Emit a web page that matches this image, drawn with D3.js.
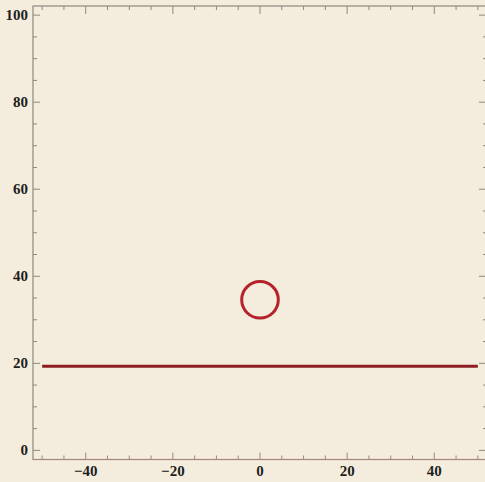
<!DOCTYPE html>
<html>
<head>
<meta charset="utf-8">
<script src="https://cdn.jsdelivr.net/npm/d3@7"></script>
<style>
  body { margin: 0; background: #f4eddd; }
  svg { display: block; }
</style>
</head>
<body>
<svg id="chart" width="485" height="482"></svg>
<script>
"use strict"

// plot ranges
const xDomain = [-52.1, 52.1]
const yDomain = [-2.1, 102.1]

// major tick values
const xMajor = [-40, -20, 0, 20, 40]
const yMajor = [0, 20, 40, 60, 80, 100]

// the horizontal segment
const lineX = [-50, 50]
const lineY = [19.3, 19.3]

// the circle
const circleCenter = [0, 34.6]
const circleRadius = 4.2

const svg = d3.select("#chart")
const W = 485, H = 482
const mLeft = 33, mRight = 487, mTop = 6, mBottom = 459.5

svg.append("rect").attr("width", W).attr("height", H).attr("fill", "#f4eddd")

const x = d3.scaleLinear().domain(xDomain).range([mLeft, mRight])
const y = d3.scaleLinear().domain(yDomain).range([mBottom, mTop])

const frameCol = "#8c8880"
const bottomCol = "#a88484"

// minor ticks every 5
const xMinor = d3.range(-50, 51, 5).filter(v => xMajor.indexOf(v) < 0)
const yMinor = d3.range(0, 101, 5).filter(v => yMajor.indexOf(v) < 0)

const g = svg.append("g")

// ticks on all four sides
const tickG = g.append("g").attr("stroke", frameCol).attr("stroke-width", 1)
xMajor.forEach(v => {
  tickG.append("line").attr("x1", x(v)).attr("x2", x(v)).attr("y1", mBottom).attr("y2", mBottom - 7).attr("stroke", bottomCol)
  tickG.append("line").attr("x1", x(v)).attr("x2", x(v)).attr("y1", mTop).attr("y2", mTop + 8)
})
xMinor.forEach(v => {
  tickG.append("line").attr("x1", x(v)).attr("x2", x(v)).attr("y1", mBottom).attr("y2", mBottom - 4).attr("stroke", bottomCol)
  tickG.append("line").attr("x1", x(v)).attr("x2", x(v)).attr("y1", mTop).attr("y2", mTop + 4)
})
yMajor.forEach(v => {
  tickG.append("line").attr("x1", mLeft).attr("x2", mLeft + 7).attr("y1", y(v)).attr("y2", y(v))
  tickG.append("line").attr("x1", mRight).attr("x2", mRight - 8).attr("y1", y(v)).attr("y2", y(v))
})
yMinor.forEach(v => {
  tickG.append("line").attr("x1", mLeft).attr("x2", mLeft + 4).attr("y1", y(v)).attr("y2", y(v))
  tickG.append("line").attr("x1", mRight).attr("x2", mRight - 4).attr("y1", y(v)).attr("y2", y(v))
})

// frame
g.append("rect")
  .attr("x", mLeft).attr("y", mTop)
  .attr("width", mRight - mLeft).attr("height", mBottom - mTop)
  .attr("fill", "none").attr("stroke", frameCol).attr("stroke-width", 1.2)
g.append("line")
  .attr("x1", mLeft).attr("x2", mRight).attr("y1", mBottom).attr("y2", mBottom)
  .attr("stroke", bottomCol).attr("stroke-width", 1.2)

// tick labels
const fmt = v => v < 0 ? "\u2212" + Math.abs(v) : String(v)
g.append("g").selectAll("text").data(xMajor).join("text")
  .attr("x", d => x(d)).attr("y", mBottom + 16)
  .attr("text-anchor", "middle")
  .attr("font-family", "'Liberation Serif', 'DejaVu Serif', serif")
  .attr("font-size", 15).attr("font-weight", "bold").attr("fill", "#1e1e1e")
  .text(fmt)
g.append("g").selectAll("text").data(yMajor).join("text")
  .attr("x", mLeft - 5).attr("y", d => y(d) + 5)
  .attr("text-anchor", "end")
  .attr("font-family", "'Liberation Serif', 'DejaVu Serif', serif")
  .attr("font-size", 15).attr("font-weight", "bold").attr("fill", "#1e1e1e")
  .text(fmt)

// segment
g.append("path")
  .datum(d3.zip(lineX, lineY))
  .attr("d", d3.line().x(d => x(d[0])).y(d => y(d[1])))
  .attr("stroke", "#8e1d22").attr("stroke-width", 3).attr("fill", "none")

// circle
g.append("ellipse")
  .attr("cx", x(circleCenter[0])).attr("cy", y(circleCenter[1]))
  .attr("rx", x(circleRadius) - x(0)).attr("ry", y(0) - y(circleRadius))
  .attr("stroke", "#b4232b").attr("stroke-width", 3).attr("fill", "none")
</script>
</body>
</html>
